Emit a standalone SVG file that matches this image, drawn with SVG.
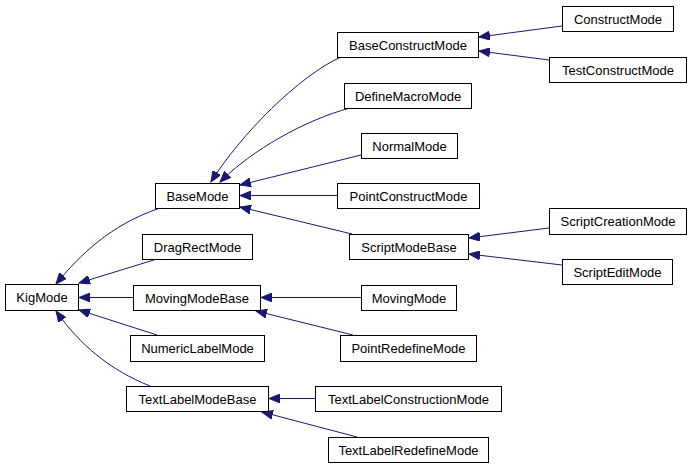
<svg xmlns="http://www.w3.org/2000/svg" width="692" height="468" viewBox="0 0 692 468">
<style>
.node rect{fill:#ffffff;stroke:#000000;stroke-width:1}
.node text{font-family:"Liberation Sans",Arial,Helvetica,sans-serif;font-size:13px;fill:#000000;text-anchor:middle}
.edge{fill:none;stroke:#191970;stroke-width:1;marker-end:url(#arr)}
</style>
<defs>
<marker id="arr" markerUnits="userSpaceOnUse" markerWidth="12" markerHeight="9" refX="11" refY="4.5" orient="auto">
<path d="M0,0 L11,4.5 L0,9 z" fill="#191970" stroke="#191970"/>
</marker>
</defs>
<rect width="692" height="468" fill="#ffffff"/>
<g id="connectors">
<path class="edge" d="M341,57 C300,75 240,135 211,182"/>
<path class="edge" d="M350,108 C305,120 252,150 220,182"/>
<path class="edge" d="M361,155 L240,185"/>
<path class="edge" d="M337,195.5 L240,195.5"/>
<path class="edge" d="M352,234 L240,207"/>
<path class="edge" d="M160,208 C110,225 80,255 56,284"/>
<path class="edge" d="M157,259 L79,283"/>
<path class="edge" d="M133,297.5 L79,297.5"/>
<path class="edge" d="M157,335 L79,310"/>
<path class="edge" d="M150,386 C110,370 80,345 56,311"/>
<path class="edge" d="M562,26 L479,37"/>
<path class="edge" d="M549,60 L479,51"/>
<path class="edge" d="M549,228 L469,238"/>
<path class="edge" d="M562,265 L469,254"/>
<path class="edge" d="M361,297.5 L261,297.5"/>
<path class="edge" d="M353,335 L256,311"/>
<path class="edge" d="M315,398.5 L269,398.5"/>
<path class="edge" d="M357,437 L262,412"/>
</g>
<g id="KigMode" class="node"><rect x="5.5" y="284.5" width="73" height="26"/><text x="42" y="302">KigMode</text></g>
<g id="BaseMode" class="node"><rect x="155.5" y="183.5" width="84" height="25"/><text x="197.5" y="200.5">BaseMode</text></g>
<g id="DragRectMode" class="node"><rect x="142.5" y="234.5" width="110" height="25"/><text x="197.5" y="251.5">DragRectMode</text></g>
<g id="MovingModeBase" class="node"><rect x="133.5" y="285.5" width="127" height="25"/><text x="197" y="302.5">MovingModeBase</text></g>
<g id="NumericLabelMode" class="node"><rect x="130.5" y="335.5" width="134" height="26"/><text x="197.5" y="353">NumericLabelMode</text></g>
<g id="TextLabelModeBase" class="node"><rect x="126.5" y="386.5" width="142" height="25"/><text x="197.5" y="403.5">TextLabelModeBase</text></g>
<g id="BaseConstructMode" class="node"><rect x="337.5" y="32.5" width="141" height="25"/><text x="408" y="49.5">BaseConstructMode</text></g>
<g id="DefineMacroMode" class="node"><rect x="344.5" y="83.5" width="127" height="25"/><text x="408" y="100.5">DefineMacroMode</text></g>
<g id="NormalMode" class="node"><rect x="361.5" y="133.5" width="96" height="25"/><text x="409.5" y="150.5">NormalMode</text></g>
<g id="PointConstructMode" class="node"><rect x="337.5" y="183.5" width="142" height="25"/><text x="408.5" y="200.5">PointConstructMode</text></g>
<g id="ScriptModeBase" class="node"><rect x="349.5" y="234.5" width="119" height="25"/><text x="409" y="251.5">ScriptModeBase</text></g>
<g id="ConstructMode" class="node"><rect x="562.5" y="6.5" width="111" height="25"/><text x="618" y="23.5">ConstructMode</text></g>
<g id="TestConstructMode" class="node"><rect x="549.5" y="57.5" width="137" height="25"/><text x="618" y="74.5">TestConstructMode</text></g>
<g id="ScriptCreationMode" class="node"><rect x="549.5" y="208.5" width="137" height="26"/><text x="618" y="226">ScriptCreationMode</text></g>
<g id="ScriptEditMode" class="node"><rect x="562.5" y="259.5" width="110" height="25"/><text x="617.5" y="276.5">ScriptEditMode</text></g>
<g id="MovingMode" class="node"><rect x="361.5" y="285.5" width="95" height="25"/><text x="409" y="302.5">MovingMode</text></g>
<g id="PointRedefineMode" class="node"><rect x="340.5" y="335.5" width="136" height="26"/><text x="408.5" y="353">PointRedefineMode</text></g>
<g id="TextLabelConstructionMode" class="node"><rect x="315.5" y="386.5" width="186" height="25"/><text x="408.5" y="403.5">TextLabelConstructionMode</text></g>
<g id="TextLabelRedefineMode" class="node"><rect x="328.5" y="437.5" width="160" height="25"/><text x="408.5" y="454.5">TextLabelRedefineMode</text></g>
</svg>
